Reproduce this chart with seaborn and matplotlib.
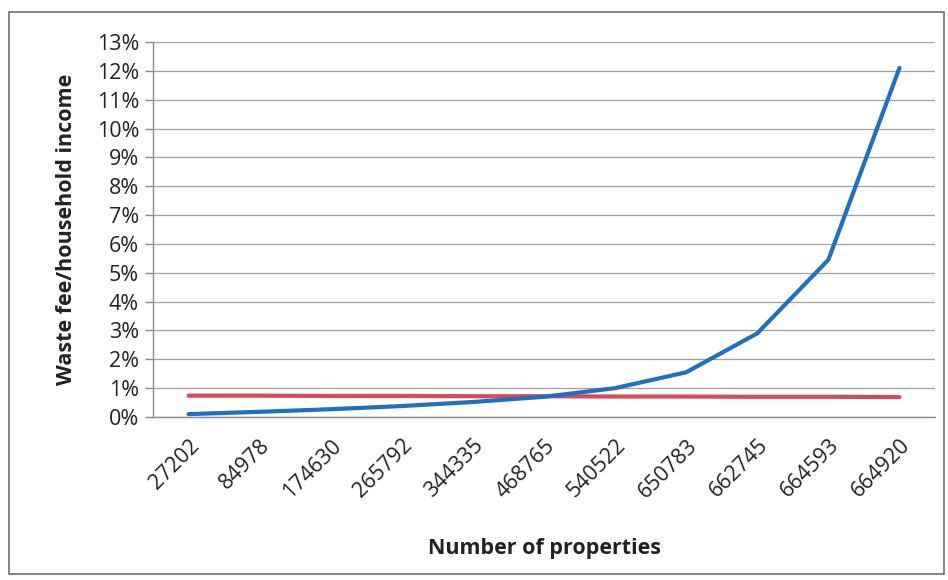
import matplotlib
matplotlib.use("Agg")
import matplotlib.pyplot as plt
import seaborn as sns
import pandas as pd
from matplotlib.ticker import PercentFormatter, FixedLocator
from matplotlib.patches import Rectangle

categories = ["27202", "84978", "174630", "265792", "344335", "468765",
              "540522", "650783", "662745", "664593", "664920"]
fee_ratio = [0.10, 0.18, 0.27, 0.38, 0.52, 0.70, 1.00, 1.55, 2.90, 5.45, 12.10]
threshold = [0.74, 0.74, 0.73, 0.73, 0.72, 0.72, 0.71, 0.71, 0.70, 0.70, 0.69]

sns.set_theme(style="white")
plt.rcParams['font.family'] = ['Open Sans', 'DejaVu Sans']

df = pd.DataFrame({
    "cat": categories * 2,
    "value": fee_ratio + threshold,
    "series": ["fee"] * len(categories) + ["threshold"] * len(categories),
})

fig = plt.figure(figsize=(9.48, 5.8), dpi=100)
ax = fig.add_axes([153/948, 1 - 417/580, (935-153)/948, (417-42)/580])

sns.lineplot(data=df, x="cat", y="value", hue="series",
             palette={"fee": "#1f70c1", "threshold": "#d9495c"},
             hue_order=["threshold", "fee"],
             linewidth=3, ax=ax, legend=False, sort=False)

ax.set_xlim(-0.5, len(categories) - 0.5)
ax.set_ylim(0, 13)
ax.set_yticks(range(0, 14))
ax.yaxis.set_major_formatter(PercentFormatter(decimals=0))
ax.grid(axis="y", color="#a0a0a0", linewidth=0.9)
ax.set_axisbelow(True)

for s in ["top", "right"]:
    ax.spines[s].set_visible(False)
for s in ["left", "bottom"]:
    ax.spines[s].set_color("#8a8a8a")
    ax.spines[s].set_linewidth(1.0)

ax.set_xticks(range(len(categories)))
ax.set_xticklabels(categories, rotation=45, ha="right", rotation_mode="anchor",
                   fontsize=15.5, color="#222222")
ax.tick_params(axis="x", length=0, pad=13)
ax.xaxis.set_minor_locator(FixedLocator([i + 0.5 for i in range(-1, len(categories))]))
ax.tick_params(axis="x", which="minor", length=6, color="#8a8a8a", width=1)
ax.tick_params(axis="y", length=6, color="#8a8a8a", width=1, labelsize=15.5,
               labelcolor="#222222", direction="out", pad=4)
ax.yaxis.set_ticks_position("left")

ax.set_xlabel("Number of properties", fontsize=15.5, fontweight="bold",
              color="#222222", labelpad=26)
ax.set_ylabel("Waste fee/household income", fontsize=15.5, fontweight="bold",
              color="#222222", labelpad=14)

fig.patches.append(Rectangle((9/948, 1 - 574/580), (944-9)/948, (574-12)/580,
                             transform=fig.transFigure, fill=False,
                             edgecolor="#707070", linewidth=1.2))

fig.savefig("out.png", dpi=100)
